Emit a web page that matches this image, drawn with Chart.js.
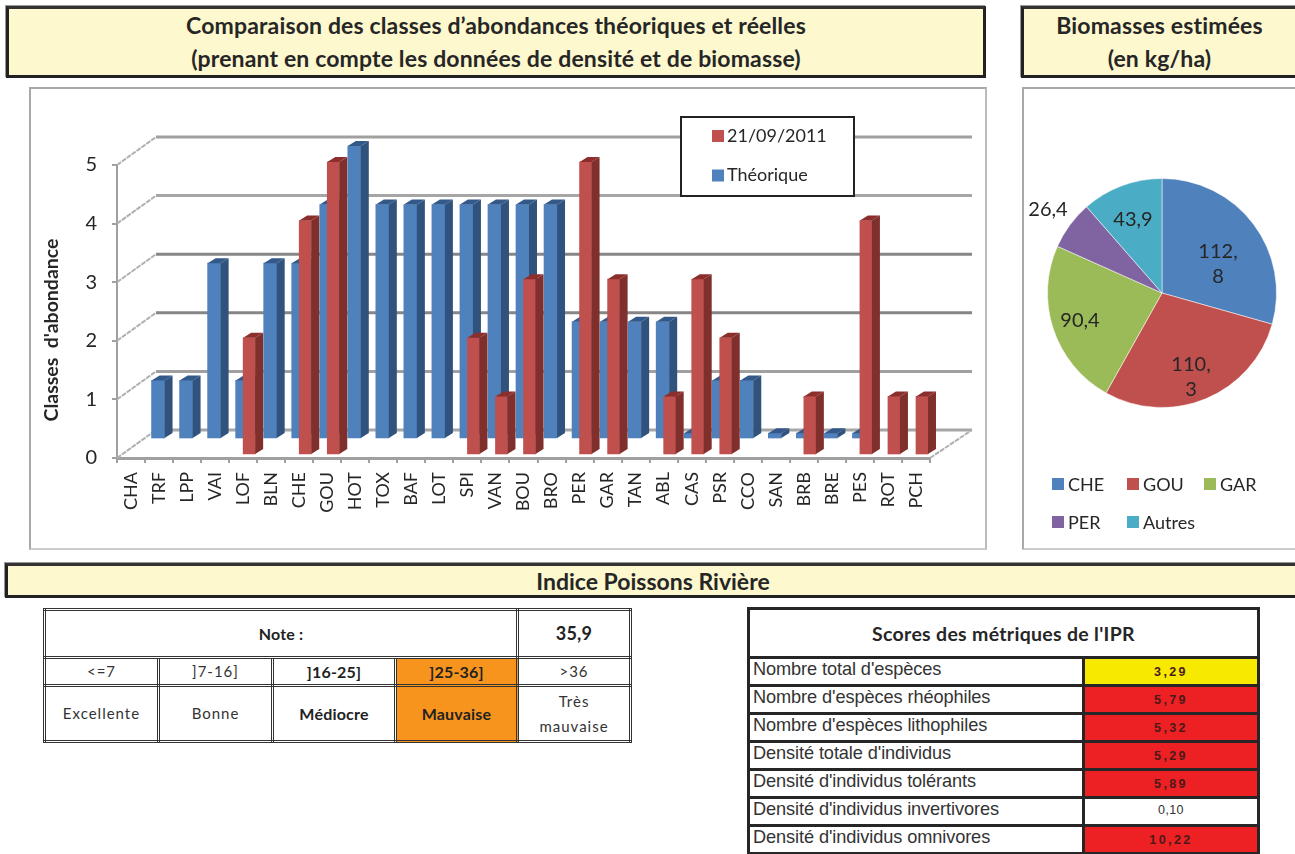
<!DOCTYPE html>
<html lang="fr">
<head>
<meta charset="utf-8">
<title>Classes d'abondance et IPR</title>
<script src="https://cdn.jsdelivr.net/npm/chart.js@4/dist/chart.umd.min.js"></script>
<style>
html,body{margin:0;padding:0;background:#fff;width:1295px;height:854px;overflow:hidden;font-family:Lato,sans-serif;color:#222}
.abs{position:absolute;box-sizing:border-box}
.head{background:#fdf8ce;border:3px solid #222;border-top-color:#333;display:flex;flex-direction:column;justify-content:center;align-items:center;font-weight:700;color:#262626;box-shadow:-1px -1px 0 #999}
.h1{font-size:23px;line-height:33px;letter-spacing:.15px}
.frame{border:2px solid #a8a8a8;background:#fff;border-right-color:#bbb;border-bottom-color:#ccc}
canvas{position:absolute;display:block}
table{position:absolute;border-collapse:collapse;table-layout:fixed;background:#fff}
#note td{border:3px double #333;text-align:center;padding:0;font-size:15px;letter-spacing:1px;color:#333;line-height:25px}
#note .b{font-weight:700;letter-spacing:.2px;color:#222;font-size:16px}
#note .big{font-size:18px}
#note .o{background:#f7941d}
#ipr td{border:3px solid #262626;padding:0 0 5px 3px;font-family:"Liberation Sans",Arial,sans-serif;font-size:18.2px;line-height:20px;color:#333;letter-spacing:-.1px;height:20px;white-space:nowrap;box-sizing:border-box}
#ipr th{border:3px solid #262626;font-family:Lato,sans-serif;font-size:19.5px;font-weight:700;color:#262626;letter-spacing:.3px}
#ipr td.v{text-align:center;padding:0;font-size:12.5px;font-weight:700;letter-spacing:2.4px;color:#4a1a1a}
#ipr td.plain{font-weight:400;color:#333;letter-spacing:.4px;padding-bottom:3px}
</style>
</head>
<body>
<div class="abs head" style="left:6px;top:6px;width:980px;height:72px"><div class="h1">Comparaison des classes d’abondances théoriques et réelles</div><div class="h1">(prenant en compte les données de densité et de biomasse)</div></div>
<div class="abs head" style="left:1021px;top:6px;width:280px;height:72px"><div class="h1" style="margin-right:3px">Biomasses estimées</div><div class="h1" style="margin-right:3px">(en kg/ha)</div></div>
<div class="abs frame" style="left:29px;top:87px;width:958px;height:463px"></div>
<div class="abs frame" style="left:1022px;top:87px;width:280px;height:463px"></div>
<canvas id="bars" width="958" height="463" style="left:29px;top:87px;width:958px;height:463px"></canvas>
<canvas id="pie" width="271" height="459" style="left:1024px;top:89px;width:271px;height:459px"></canvas>
<div class="abs head" style="left:5px;top:563px;width:1296px;height:35px;font-size:23px">Indice Poissons Rivière</div>
<table id="note" style="left:43px;top:608px;width:586px;height:132px"></table>
<table id="ipr" style="left:747px;top:607px;width:510px"></table>

<script>
const categories = ["CHA","TRF","LPP","VAI","LOF","BLN","CHE","GOU","HOT","TOX","BAF","LOT","SPI","VAN","BOU","BRO","PER","GAR","TAN","ABL","CAS","PSR","CCO","SAN","BRB","BRE","PES","ROT","PCH"];
const theorique  = [null,1,1,3,1,3,3,4,5,4,4,4,4,4,4,4,2,2,2,2,0.1,1,1,0.1,0.1,0.1,0.1,null,null];
const measured   = [null,null,null,null,2,null,4,5,null,null,null,null,2,1,3,null,5,3,null,1,3,2,null,null,1,null,4,1,1];
const seriesNames = ["21/09/2011","Théorique"];
const yTicks = [0,1,2,3,4,5];
const yTitle = "Classes  d'abondance";

const pieLabels = ["CHE","GOU","GAR","PER","Autres"];
const pieValues = [112.8,110.3,90.4,26.4,43.9];
const pieColors = ["#4f81bd","#c0504d","#9bbb59","#8064a2","#4bacc6"];

const noteTitle = "Note :";
const noteValue = "35,9";
const classRanges = ["<=7","]7-16]","]16-25]","]25-36]",">36"];
const classNames = ["Excellente","Bonne","Médiocre","Mauvaise","Très mauvaise"];

const iprTitle = "Scores des métriques de l'IPR";
const iprNames = ["Nombre total d'espèces","Nombre d'espèces rhéophiles","Nombre d'espèces lithophiles","Densité totale d'individus","Densité d'individus tolérants","Densité d'individus invertivores","Densité d'individus omnivores"];
const iprScores = ["3,29","5,79","5,32","5,29","5,89","0,10","10,22"];
const iprFills = ["#f7ea00","#ed2024","#ed2024","#ed2024","#ed2024","#ffffff","#ed2024"];

/* ---------- tables ---------- */
const colW = [114,114,123,122,113];
let h = '<colgroup>'+colW.map(w=>`<col style="width:${w}px">`).join('')+'</colgroup>';
h += `<tr style="height:48px"><td colspan="4" class="b">${noteTitle}</td><td class="b big">${noteValue}</td></tr>`;
const cls = i => i===2 ? 'b' : i===3 ? 'b o' : '';
h += '<tr style="height:28px">'+classRanges.map((t,i)=>`<td class="${cls(i)}">${t.replace('<','&lt;').replace('>','&gt;')}</td>`).join('')+'</tr>';
h += '<tr style="height:56px">'+classNames.map((t,i)=>`<td class="${cls(i)}">${t.replace(' ','<br>')}</td>`).join('')+'</tr>';
document.getElementById('note').innerHTML = h;

let k = '<colgroup><col style="width:335px"><col style="width:175px"></colgroup>';
k += `<tr style="height:49px"><th colspan="2">${iprTitle}</th></tr>`;
iprNames.forEach((n,i)=>{
  const plain = iprFills[i]==='#ffffff' ? ' plain' : '';
  k += `<tr style="height:28px"><td>${n}</td><td class="v${plain}" style="background:${iprFills[i]}">${iprScores[i]}</td></tr>`;
});
document.getElementById('ipr').innerHTML = k;

/* ---------- 3D look for the bars ---------- */
const FONT = 'Lato, sans-serif';
const depth = {dx:39, dy:-28};              // wall offset
const shift = [{x:6,y:-3,side:'#7f2f2c',top:'#8c2f2c'},{x:-1,y:-19,side:'#30527c',top:'#33598a'}];
const ext = {dx:8, dy:-5};
const gridGrey = ['#a6a6a6','#a0a0a0','#868686','#868686','#a6a6a6','#a0a0a0'];

const wall3d = {
  id:'wall3d',
  beforeDatasetsDraw(c){
    const {ctx,scales:{x,y}} = c;
    ctx.save();
    yTicks.forEach((v,i)=>{
      const p = y.getPixelForValue(v);
      ctx.strokeStyle = gridGrey[i]; ctx.lineWidth = 3; ctx.setLineDash([]);
      ctx.beginPath(); ctx.moveTo(x.left+depth.dx, p+depth.dy); ctx.lineTo(x.right+depth.dx+3, p+depth.dy); ctx.stroke();
      ctx.strokeStyle = '#b0b0b0'; ctx.lineWidth = 2; ctx.setLineDash([5,1]);
      ctx.beginPath(); ctx.moveTo(x.left, p); ctx.lineTo(x.left+depth.dx, p+depth.dy); ctx.stroke();
    });
    const p0 = y.getPixelForValue(0);
    ctx.beginPath(); ctx.moveTo(x.right, p0); ctx.lineTo(x.right+depth.dx+3, p0+depth.dy); ctx.stroke();
    ctx.restore();
    // vertical title of the value axis
    ctx.save();
    ctx.translate(23, 243); ctx.rotate(-Math.PI/2);
    ctx.font = '700 19.5px '+FONT; ctx.fillStyle = '#262626'; ctx.textAlign='center'; ctx.textBaseline='middle';
    ctx.fillText(yTitle,0,0);
    ctx.restore();
  },
  beforeDatasetDraw(c,a){
    const s = shift[a.index];
    c.ctx.save(); c.ctx.translate(s.x,s.y);
  },
  afterDatasetDraw(c,a){
    const {ctx} = c, s = shift[a.index];
    a.meta.data.forEach(b=>{
      const p = b.getProps(['x','y','base','width'],true);
      if (!(p.base-p.y >= 0.5)) return;
      const r = p.x+p.width/2, l = p.x-p.width/2;
      ctx.fillStyle = s.side;
      ctx.beginPath(); ctx.moveTo(r,p.y); ctx.lineTo(r+ext.dx,p.y+ext.dy); ctx.lineTo(r+ext.dx,p.base+ext.dy); ctx.lineTo(r,p.base); ctx.closePath(); ctx.fill();
      ctx.fillStyle = s.top;
      ctx.beginPath(); ctx.moveTo(l,p.y); ctx.lineTo(l+ext.dx,p.y+ext.dy); ctx.lineTo(r+ext.dx,p.y+ext.dy); ctx.lineTo(r,p.y); ctx.closePath(); ctx.fill();
    });
    ctx.restore();
  },
  afterDraw(c){
    const {ctx} = c;
    ctx.save();
    ctx.fillStyle='#fff'; ctx.strokeStyle='#222'; ctx.lineWidth=2;
    ctx.fillRect(652,30,173,79); ctx.strokeRect(652,30,173,79);
    c.data.datasets.forEach((d,i)=>{
      const yy = 49+i*39.5;
      ctx.fillStyle = d.backgroundColor; ctx.fillRect(683,yy-6,12,12);
      ctx.fillStyle='#262626'; ctx.font='18px '+FONT; ctx.textAlign='left'; ctx.textBaseline='middle';
      ctx.fillText(d.label,698,yy);
    });
    ctx.restore();
  }
};

new Chart(document.getElementById('bars'),{
  type:'bar',
  data:{labels:categories,datasets:[
    {label:seriesNames[0],data:measured,backgroundColor:'#c0504d',barThickness:12,grouped:false,order:0,clip:false,borderWidth:0},
    {label:seriesNames[1],data:theorique,backgroundColor:'#4f81bd',barThickness:13,grouped:false,order:1,clip:false,borderWidth:0}
  ]},
  options:{
    responsive:false,animation:false,
    layout:{padding:{top:78,right:57,left:0,bottom:0}},
    plugins:{legend:{display:false},tooltip:{enabled:false},title:{display:false}},
    scales:{
      x:{
        afterFit:s=>{s.height=92},
        grid:{drawOnChartArea:false,color:'#a0a0a0',tickLength:5,lineWidth:2},
        border:{color:'#a0a0a0',width:3},
        ticks:{autoSkip:false,minRotation:90,maxRotation:90,padding:9,color:'#262626',font:{family:'Lato',size:18}}
      },
      y:{
        min:0,max:5,
        afterFit:s=>{s.width=88},
        afterBuildTicks:s=>{s.ticks=yTicks.map(v=>({value:v}))},
        grid:{drawOnChartArea:false,color:'#a0a0a0',tickLength:5,lineWidth:2},
        border:{color:'#a0a0a0',width:2},
        ticks:{padding:15,color:'#262626',font:{family:'Lato',size:20}}
      }
    }
  },
  plugins:[wall3d]
});

/* ---------- pie ---------- */
const labelOffsets = [[56,-28],[29,85],[-82,28],[-114,-83],[-29,-73]];
const fmt = v => v.toFixed(1).replace('.',',');
const pieText = {
  id:'pieText',
  afterDraw(c){
    const {ctx} = c, a = c.getDatasetMeta(0).data[0];
    ctx.save();
    ctx.textBaseline='middle';
    pieValues.forEach((v,i)=>{
      ctx.font='20px '+FONT; ctx.fillStyle='#262626'; ctx.textAlign='center';
      const [ox,oy] = labelOffsets[i], s = fmt(v), cx = a.x+ox, cy = a.y+oy;
      if (v>=100){ const [m,n]=s.split(','); ctx.fillText(m+',',cx,cy-13); ctx.fillText(n,cx,cy+12); }
      else ctx.fillText(s,cx,cy);
    });
    const cols=[28,103,180], rows=[395,433];
    pieLabels.forEach((t,i)=>{
      const xx=cols[i<3?i:i-3], yy=rows[i<3?0:1];
      ctx.fillStyle=pieColors[i]; ctx.fillRect(xx,yy-6,12,12);
      ctx.fillStyle='#262626'; ctx.font='18px '+FONT; ctx.textAlign='left';
      ctx.fillText(t,xx+16,yy+1);
    });
    ctx.restore();
  }
};
new Chart(document.getElementById('pie'),{
  type:'pie',
  data:{labels:pieLabels,datasets:[{data:pieValues,backgroundColor:pieColors,borderColor:'rgba(255,255,255,.5)',borderWidth:1}]},
  options:{responsive:false,animation:false,
    layout:{padding:{left:23,right:18,top:89,bottom:140}},
    plugins:{legend:{display:false},tooltip:{enabled:false}}},
  plugins:[pieText]
});
</script>
</body>
</html>
